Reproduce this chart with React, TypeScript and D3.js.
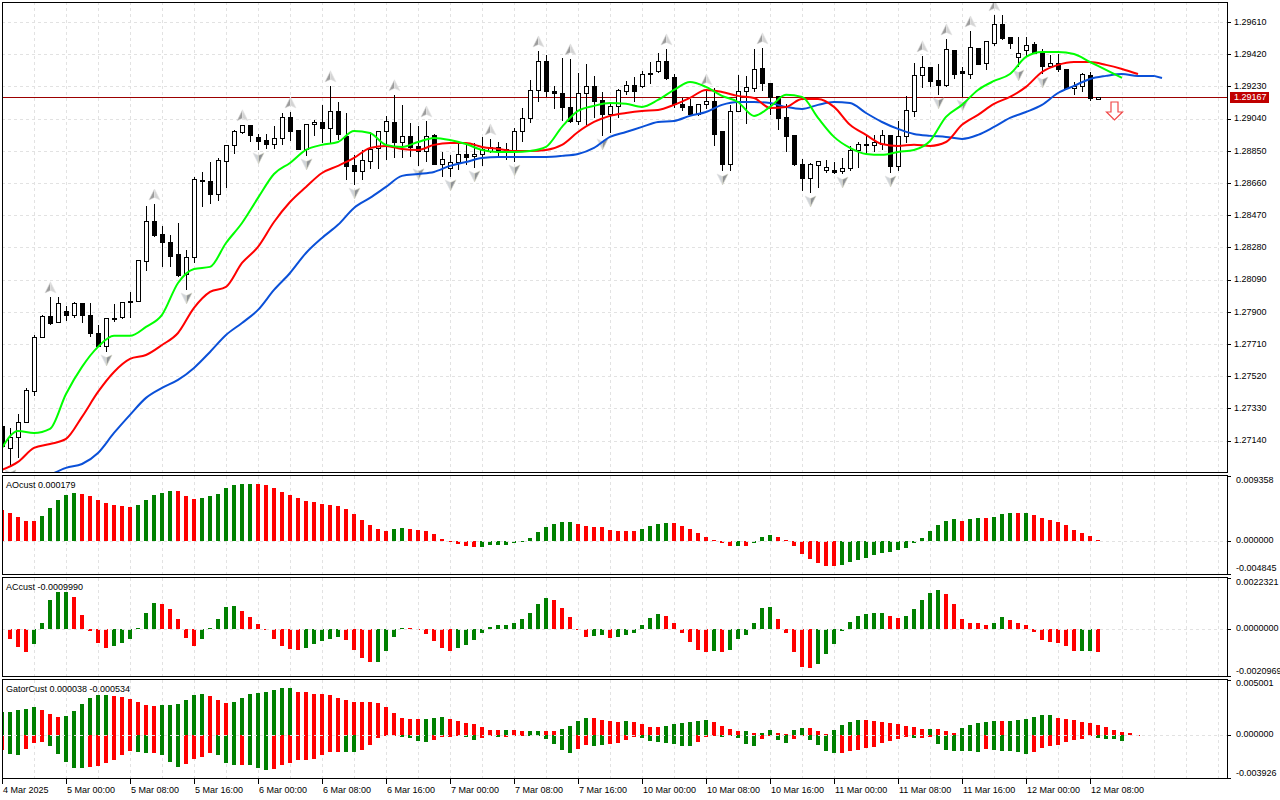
import * as d3 from "d3";

// prices are in points above 1.00000, so 29167 means 1.29167
const opens = [
  27224,27094,27159,27247,27430,27749,27873,27837,27902,27879,
  27949,27879,27772,27696,27864,27867,27955,27961,28197,28433,
  28357,28309,28239,28121,28221,28675,28669,28598,28787,28882,
  28958,29000,28929,28911,28888,28923,29047,28970,28858,29006,
  29017,28982,29082,28935,28764,28728,28787,28864,28964,29017,
  28899,28935,28876,28846,28941,28775,28746,28781,28834,28817,
  28829,28846,28870,28846,28846,28964,29041,29206,29377,29200,
  29194,29106,29023,29194,29230,29147,29070,29112,29200,29236,
  29230,29306,29318,29377,29283,29124,29112,29065,29124,29141,
  28964,28775,29082,29200,29218,29336,29253,29171,29047,28941,
  28770,28687,28764,28734,28734,28728,28746,28852,28893,28882,
  28893,28941,28758,28935,29082,29295,29342,29265,29236,29442,
  29318,29306,29454,29371,29489,29601,29519,29401,29442,29478,
  29430,29348,29371,29330,29218,29230,29300,29153,
];
const highs = [
  27265,27218,27300,27454,27766,27885,27991,27991,27938,27961,
  27955,27955,27825,27867,27949,27961,28020,28209,28528,28539,
  28410,28357,28427,28268,28699,28728,28787,28811,28888,28976,
  29006,29006,28952,28952,29000,29076,29082,28970,29006,29035,
  29124,29236,29141,29076,28829,28858,28964,28970,29059,29183,
  29124,29017,29000,29029,28952,28846,28829,28899,28899,28899,
  28935,28923,28905,28899,28988,29106,29271,29442,29418,29236,
  29401,29395,29312,29365,29295,29200,29135,29218,29265,29289,
  29324,29377,29430,29454,29306,29165,29159,29124,29218,29224,
  28970,29124,29300,29295,29454,29460,29253,29171,29130,28947,
  28805,28781,28793,28799,28787,28811,28882,28905,28947,28947,
  28976,28947,29029,29177,29371,29413,29342,29365,29513,29448,
  29348,29560,29454,29495,29655,29655,29525,29525,29525,29495,
  29454,29418,29424,29336,29259,29312,29318,29171,
];
const lows = [
  27000,26988,27041,27247,27407,27749,27825,27837,27849,27867,
  27837,27755,27696,27666,27843,27861,27867,27961,28144,28345,
  28168,28168,28109,28032,28191,28522,28539,28557,28634,28834,
  28952,28905,28858,28864,28864,28888,28911,28858,28823,28941,
  28899,28899,28917,28681,28651,28681,28746,28746,28799,28811,
  28811,28817,28764,28787,28770,28699,28699,28740,28770,28752,
  28764,28840,28811,28799,28787,28905,29017,29141,29171,29100,
  29029,29017,29006,29006,29047,28941,28958,29047,29183,29141,
  29224,29247,29312,29271,29106,29088,29065,29059,29100,28882,
  28734,28734,29082,29011,29200,29206,29065,28976,28846,28764,
  28616,28604,28634,28722,28716,28716,28734,28752,28829,28846,
  28858,28722,28734,28899,29053,29224,29230,29183,29230,29277,
  29171,29277,29365,29330,29472,29507,29454,29348,29407,29430,
  29306,29342,29318,29212,29183,29200,29147,29153,
];
const closes = [
  27106,27159,27247,27436,27749,27873,27831,27949,27879,27949,
  27879,27772,27696,27861,27855,27955,27961,28203,28433,28351,
  28309,28227,28115,28221,28681,28669,28593,28793,28882,28964,
  29000,28941,28905,28888,28923,29047,28964,28858,29006,29017,
  28982,29082,28952,28758,28728,28793,28858,28964,29023,28899,
  28935,28870,28846,28935,28775,28799,28781,28834,28811,28834,
  28858,28870,28846,28858,28964,29041,29206,29377,29200,29194,
  29106,29023,29194,29230,29141,29065,29112,29206,29236,29200,
  29306,29312,29377,29277,29124,29106,29065,29124,29141,28947,
  28770,29082,29200,29224,29330,29253,29165,29041,28935,28770,
  28687,28770,28787,28752,28722,28746,28852,28893,28882,28899,
  28941,28758,28935,29088,29295,29342,29259,29236,29448,29306,
  29312,29460,29365,29495,29601,29513,29489,29430,29472,29430,
  29348,29371,29330,29218,29230,29306,29159,29167,
];

// alligator lines, read every second bar
const lipsValues = [
  27100,27200,27188,27212,27418,27578,27696,27761,27761,27814,27885,28073,28156,28168,28309,28427,28575,28716,
  28781,28858,28888,28905,28970,28958,28888,28876,28905,28929,28917,28893,28858,28846,28846,28852,28876,28994,
  29088,29118,29135,29130,29112,29153,29212,29259,29230,29177,29141,29059,29112,29183,29171,29047,28935,28870,
  28834,28829,28846,28858,28911,29053,29124,29212,29265,29306,29407,29436,29436,29424,29377,29330,29283,
];
const teethValues = [
  26970,27017,27100,27123,27153,27283,27430,27548,27625,27648,27707,27778,27926,28020,28050,28191,28286,28433,
  28551,28640,28722,28764,28811,28870,28882,28864,28858,28888,28899,28899,28876,28864,28852,28852,28858,28888,
  28964,29023,29059,29076,29088,29094,29124,29165,29212,29200,29177,29165,29106,29112,29159,29159,29112,29006,
  28947,28893,28882,28888,28882,28905,29006,29065,29130,29171,29230,29318,29360,29377,29377,29360,29336,29306,
];
// jaw starts at bar 6 and has one extra point at bar 145
const jawValues = [
  26940,26982,27005,27070,27188,27295,27395,27454,27501,27572,27666,27766,27837,27914,28032,28132,28250,28339,
  28416,28516,28575,28640,28705,28716,28728,28764,28787,28811,28817,28817,28817,28817,28823,28834,28870,28935,
  28964,28994,29023,29029,29059,29082,29124,29141,29141,29135,29112,29100,29124,29141,29135,29076,29023,28982,
  28952,28941,28935,28923,28947,28994,29047,29082,29124,29194,29236,29277,29295,29306,29295,29295,29283,
];

const fractalUpBars = [6,19,30,36,41,49,53,61,67,71,83,88,95,115,118,121,124];
const fractalDownBars = [1,13,23,32,38,44,52,56,59,64,75,90,101,105,111,117,120,127,130];
const signalBar = 139;
const signalPrice = 29141;
const lastPrice = 29167;
const priceTicks = [29610,29420,29230,29040,28850,28660,28470,28280,28090,27900,27710,27520,27330,27140];

const dateLabels = [
  "4 Mar 2025","5 Mar 00:00","5 Mar 08:00","5 Mar 16:00","6 Mar 00:00","6 Mar 08:00","6 Mar 16:00","7 Mar 00:00","7 Mar 08:00",
  "7 Mar 16:00","10 Mar 00:00","10 Mar 08:00","10 Mar 16:00","11 Mar 00:00","11 Mar 08:00","11 Mar 16:00","12 Mar 00:00","12 Mar 08:00",
];

// AO in millionths
const aoValues = [
  4462,4074,3492,2910,2910,3638,4802,5966,6693,6984,6839,6548,5966,5529,5238,5093,4947,5238,5966,6693,
  6984,7275,7275,6548,6111,6257,6548,6839,7712,8148,8294,8294,8294,8148,7712,7130,6693,6257,5820,5675,
  5384,5238,5093,4656,3929,3056,2328,1746,1455,1746,1892,1746,1601,1455,1019,291,-146,-437,-728,-873,
  -873,-582,-582,-582,-291,-146,437,1310,2037,2474,2765,2765,2474,2183,2037,2037,1601,1455,1455,1455,
  1746,2183,2474,2619,2619,2183,1746,1164,582,146,-291,-728,-728,-728,-291,582,873,582,146,-728,
  -1892,-2619,-3201,-3638,-3638,-3492,-3056,-2765,-2474,-2037,-1746,-1601,-1310,-1019,-291,437,1455,2328,2910,3201,
  2910,3201,3347,3347,3492,3929,4074,4074,4074,3783,3347,3056,2765,2328,1601,1164,728,179,
];
// run lengths of falling / rising bars, falling first
const aoRuns = [5,5,7,5,3,7,17,2,9,12,8,4,8,1,1,3,8,15,1,2,1,3,1,1,9];

// AC in ten-millionths
const acValues = [
  0,-4401,-7922,-10122,-6602,2641,12763,16284,16284,14083,6161,-880,-6161,-8362,-7482,-6161,-4401,440,7042,11443,
  11003,8802,4401,-3961,-7482,-4401,440,4401,9682,10122,7922,5281,2201,-440,-4401,-7482,-8802,-9242,-8362,-6602,
  -5281,-4401,-3521,-4841,-9242,-12763,-14523,-14523,-9682,-3521,440,440,150,-2201,-5281,-8362,-9682,-8362,-7042,-4841,
  -1760,880,1760,1760,2641,4401,7042,11003,13643,12763,9242,5281,-440,-3521,-3081,-2641,-3961,-3521,-2641,-1760,
  1760,4841,6602,5721,2641,-1760,-5721,-9242,-10122,-9682,-10122,-9242,-4401,-2641,2641,9242,9682,4401,-1760,-10122,
  -16724,-17164,-15404,-11003,-6602,-880,3081,5721,6602,7042,7042,5721,4841,5721,8802,12763,15844,17164,15404,11003,
  4401,2641,2641,1760,2641,5281,3961,2641,1760,-1320,-4841,-5721,-6161,-7482,-9682,-9682,-9682,-9990,
];
const acRuns = [4,5,5,6,5,5,8,5,4,4,6,12,5,2,1,6,6,1,1,6,5,9,2,5,6,2,9,2,1];

// Gator in millionths, the two histograms run past the last candle
const gatorUpValues = [
  2121,2121,2303,2394,2576,2303,1939,1667,1757,2212,2848,3394,3666,3666,3575,3485,3303,3030,2757,2666,
  2757,2757,2848,3212,3666,3757,3575,3212,2939,3030,3394,3757,3848,3939,4121,4303,4303,3939,3939,3757,
  3757,3666,3394,3212,3030,3030,3030,2939,2576,2030,1576,1485,1485,1485,1576,1667,1485,1303,1121,1030,
  758,485,485,485,485,394,394,394,394,394,576,848,1303,1576,1576,1394,1303,1212,1303,1212,
  1030,758,758,848,1030,1121,1212,1303,1394,1212,848,576,394,394,212,212,485,212,121,485,
  667,667,394,121,485,939,1212,1394,1394,1303,1212,1121,1030,848,758,576,576,576,394,212,
  667,939,1121,1212,1303,1303,1303,1394,1485,1667,1848,1848,1576,1485,1394,1212,1121,939,758,485,
  303,212,30,
];
const gatorUpRuns = [0,5,3,6,6,6,3,8,16,3,7,1,2,2,2,4,4,1,4,6,4,1,1,2,2,2,3,4,8,1,3,5,1,6,11];
const gatorDownValues = [
  -1303,-1697,-1788,-1242,-697,-606,-970,-1697,-2424,-2969,-2969,-2879,-2788,-2515,-2242,-1788,-1424,-1515,-1606,-1606,
  -1788,-2424,-2879,-2606,-2151,-1970,-1606,-1788,-2515,-2697,-2697,-2697,-2969,-3151,-3060,-2697,-2515,-2242,-2242,-2151,
  -1788,-1515,-1515,-1515,-1515,-1333,-879,-242,-91,-10,-152,-242,-515,-606,-424,-152,-152,-91,-152,-424,
  -242,-91,-152,-152,-91,-61,-61,-91,-333,-788,-1333,-1606,-1242,-879,-970,-879,-788,-697,-424,-152,
  -242,-515,-606,-697,-788,-970,-970,-606,-152,-10,-152,-91,-242,-788,-970,-333,-10,-424,-697,-333,
  -61,-424,-879,-1424,-1606,-1606,-1424,-1333,-1151,-1061,-697,-515,-333,-152,-242,-242,-152,-788,-1333,-1424,
  -1424,-1424,-1515,-1242,-1333,-1424,-1424,-1515,-1697,-1515,-1151,-970,-879,-606,-424,-333,-30,-242,-333,-333,
  -515,
];
const gatorDownRuns = [1,2,3,5,6,2,1,3,4,3,1,3,9,2,5,4,4,2,2,1,3,6,2,2,4,7,3,5,2,2,2,4,9,1,2,6,1,5,8,4];

const left = 2;
const right = 1227;
const fontFamily = "'Liberation Sans', Arial, sans-serif";
const gridColor = "#e2e2e2";
const risingColor = "#008000";
const fallingColor = "#ff0000";

const x = d3.scaleLinear().domain([0, 1]).range([2, 10]);
const priceY = d3.scaleLinear().domain([29610, 27140]).range([22.5, 441.1]);
const gridXs = d3.range(left + 32, right, 32);
const pointsToPrice = (v: number) => (1 + v / 1e5).toFixed(5);

const expandRuns = (runs: number[]) =>
    runs.flatMap((n, k) => Array<boolean>(n).fill(k % 2 === 1));

const lineFor = (start: number, step: number) =>
    d3
        .line<number>()
        .x((_, i) => x(start + i * step))
        .y((v) => priceY(v))
        .curve(d3.curveMonotoneX);

type Histogram = {
    values: number[];
    runs: number[];
};

type PanelProps = {
    top: number;
    bottom: number;
    scale: d3.ScaleLinear<number, number>;
    histograms: Histogram[];
    title: string;
    ticks: { value: number; label: string; textY: number }[];
    id: string;
};

function Panel({ top, bottom, scale, histograms, title, ticks, id }: PanelProps) {
    const zero = scale(0);
    return (
        <g>
            <clipPath id={id}>
                <rect x={left} y={top} width={right - left} height={bottom - top} />
            </clipPath>
            {gridXs.map((gx) => (
                <line
                    key={gx}
                    x1={gx + 0.5}
                    x2={gx + 0.5}
                    y1={top}
                    y2={bottom}
                    stroke={gridColor}
                    strokeDasharray="3 3"
                    shapeRendering="crispEdges"
                />
            ))}
            <g clipPath={`url(#${id})`} shapeRendering="crispEdges">
                {histograms.map((h, k) => {
                    const rising = expandRuns(h.runs);
                    return h.values.map((v, i) => {
                        const y = scale(v);
                        return (
                            <rect
                                key={`${k}-${i}`}
                                x={x(i) - 2}
                                y={Math.min(y, zero)}
                                width={4}
                                height={Math.max(Math.abs(y - zero), 1)}
                                fill={rising[i] ? risingColor : fallingColor}
                            />
                        );
                    });
                })}
            </g>
            <line
                x1={left}
                x2={right}
                y1={zero}
                y2={zero}
                stroke={gridColor}
                strokeDasharray="3 3"
                shapeRendering="crispEdges"
            />
            <rect
                x={left + 0.5}
                y={top - 0.5}
                width={right - left}
                height={bottom - top}
                fill="none"
                stroke="#000"
                shapeRendering="crispEdges"
            />
            <text x={6} y={top + 11.5} fontSize={9} fontFamily={fontFamily} fill="#000">
                {title}
            </text>
            {ticks.map((t) => (
                <g key={t.label}>
                    <line
                        x1={right}
                        x2={right + 4}
                        y1={scale(t.value)}
                        y2={scale(t.value)}
                        stroke="#000"
                        shapeRendering="crispEdges"
                    />
                    <text
                        x={right + 9}
                        y={t.textY}
                        dominantBaseline="middle"
                        fontSize={9}
                        fontFamily={fontFamily}
                        fill="#000"
                    >
                        {t.label}
                    </text>
                </g>
            ))}
        </g>
    );
}

export default function App() {
    const lastY = priceY(lastPrice);
    const plotTop = 2;
    const plotBottom = 472;
    const aoY = d3.scaleLinear().domain([-4845, 9358]).range([574.3, 476.7]);
    const acY = d3.scaleLinear().domain([-20969, 22321]).range([676.7, 578.3]);
    const gatorY = d3.scaleLinear().domain([-3926, 5001]).range([778.7, 680.3]);

    return (
        <svg
            width={1280}
            height={800}
            viewBox="0 0 1280 800"
            style={{ position: "absolute", left: 0, top: 0, background: "#fff" }}
        >
            <clipPath id="main-clip">
                <rect x={left} y={plotTop} width={right - left} height={plotBottom - plotTop} />
            </clipPath>

            {/* main chart */}
            {gridXs.map((gx) => (
                <line
                    key={gx}
                    x1={gx + 0.5}
                    x2={gx + 0.5}
                    y1={plotTop}
                    y2={plotBottom}
                    stroke={gridColor}
                    strokeDasharray="3 3"
                    shapeRendering="crispEdges"
                />
            ))}
            {priceTicks.map((t) => (
                <g key={t}>
                    <line
                        x1={left}
                        x2={right}
                        y1={priceY(t)}
                        y2={priceY(t)}
                        stroke={gridColor}
                        strokeDasharray="3 3"
                        shapeRendering="crispEdges"
                    />
                    <line
                        x1={right}
                        x2={right + 4}
                        y1={priceY(t)}
                        y2={priceY(t)}
                        stroke="#000"
                        shapeRendering="crispEdges"
                    />
                    <text
                        x={right + 7}
                        y={priceY(t)}
                        dominantBaseline="middle"
                        fontSize={9}
                        fontFamily={fontFamily}
                        fill="#000"
                    >
                        {pointsToPrice(t)}
                    </text>
                </g>
            ))}
            <line
                x1={left}
                x2={right}
                y1={lastY}
                y2={lastY}
                stroke="#9c0000"
                shapeRendering="crispEdges"
            />

            <g clipPath="url(#main-clip)">
                <g shapeRendering="crispEdges">
                    {opens.map((open, i) => {
                        const close = closes[i];
                        const up = close >= open;
                        const cx = x(i) + 0.5;
                        const top = priceY(Math.max(open, close));
                        const bottom = priceY(Math.min(open, close));
                        return (
                            <g key={i}>
                                <line
                                    x1={cx}
                                    x2={cx}
                                    y1={priceY(highs[i])}
                                    y2={priceY(lows[i])}
                                    stroke="#000"
                                />
                                <rect
                                    x={cx - 2}
                                    y={top}
                                    width={4}
                                    height={Math.max(bottom - top, 1)}
                                    fill={up ? "#fff" : "#000"}
                                    stroke="#000"
                                />
                            </g>
                        );
                    })}
                </g>

                {fractalUpBars.map((b) => (
                    <g key={b} transform={`translate(${x(b) + 0.5},${priceY(highs[b]) - 9})`}>
                        <path d="M0,-6L-5.5,5L0,2.5Z" fill="#9c9c9c" stroke="#d8d8d8" strokeWidth={0.6} />
                        <path d="M0,-6L5.5,5L0,2.5Z" fill="#d4d4d4" stroke="#e4e4e4" strokeWidth={0.6} />
                    </g>
                ))}
                {fractalDownBars.map((b) => (
                    <g key={b} transform={`translate(${x(b) + 0.5},${priceY(lows[b]) + 8})`}>
                        <path d="M0,6L-5.5,-5L0,-2.5Z" fill="#d0d4d8" stroke="#e4e4e4" strokeWidth={0.6} />
                        <path d="M0,6L5.5,-5L0,-2.5Z" fill="#8f9296" stroke="#d8d8c8" strokeWidth={0.6} />
                    </g>
                ))}

                <path d={lineFor(6, 2)(jawValues.slice(0, -1)) ?? ""} fill="none" stroke="#0a50d8" strokeWidth={2} />
                <path
                    d={
                        d3.line()([
                            [x(144), priceY(jawValues[jawValues.length - 2])],
                            [x(145), priceY(jawValues[jawValues.length - 1])],
                        ]) ?? ""
                    }
                    fill="none"
                    stroke="#0a50d8"
                    strokeWidth={2}
                />
                <path d={lineFor(0, 2)(teethValues) ?? ""} fill="none" stroke="#ff0000" strokeWidth={2} />
                <path d={lineFor(0, 2)(lipsValues) ?? ""} fill="none" stroke="#00ff00" strokeWidth={2} />

                <g transform={`translate(${x(signalBar) + 0.5},${priceY(signalPrice)})`}>
                    <path
                        d="M-3.5,0L3.5,0L3.5,10L8,10L0,18L-8,10L-3.5,10Z"
                        fill="#fff"
                        stroke="#f04848"
                        strokeWidth={1.2}
                    />
                </g>
            </g>

            <rect
                x={left + 0.5}
                y={plotTop + 0.5}
                width={right - left}
                height={plotBottom - plotTop}
                fill="none"
                stroke="#000"
                shapeRendering="crispEdges"
            />
            <rect x={1230} y={lastY - 5.5} width={39} height={11} fill="#c00000" shapeRendering="crispEdges" />
            <text
                x={1234}
                y={lastY}
                dominantBaseline="middle"
                fontSize={9}
                fontFamily={fontFamily}
                fill="#fff"
            >
                {pointsToPrice(lastPrice)}
            </text>

            <Panel
                id="ao-clip"
                top={476}
                bottom={575}
                scale={aoY}
                histograms={[{ values: aoValues, runs: aoRuns }]}
                title="AOcust 0.000179"
                ticks={[
                    { value: 9358, label: "0.009358", textY: 481 },
                    { value: 0, label: "0.000000", textY: 541 },
                    { value: -4845, label: "-0.004845", textY: 569 },
                ]}
            />
            <Panel
                id="ac-clip"
                top={578}
                bottom={677}
                scale={acY}
                histograms={[{ values: acValues, runs: acRuns }]}
                title="ACcust -0.0009990"
                ticks={[
                    { value: 22321, label: "0.0022321", textY: 583 },
                    { value: 0, label: "0.0000000", textY: 629 },
                    { value: -20969, label: "-0.0020969", textY: 672 },
                ]}
            />
            <Panel
                id="gator-clip"
                top={680}
                bottom={779}
                scale={gatorY}
                histograms={[
                    { values: gatorUpValues, runs: gatorUpRuns },
                    { values: gatorDownValues, runs: gatorDownRuns },
                ]}
                title="GatorCust 0.000038 -0.000534"
                ticks={[
                    { value: 5001, label: "0.005001", textY: 684 },
                    { value: 0, label: "0.000000", textY: 735 },
                    { value: -3926, label: "-0.003926", textY: 774 },
                ]}
            />

            {/* time axis, one label every 8 bars */}
            {dateLabels.map((label, k) => {
                const tx = x(k * 8);
                return (
                    <g key={label}>
                        <line
                            x1={tx + 0.5}
                            x2={tx + 0.5}
                            y1={779}
                            y2={784}
                            stroke="#000"
                            shapeRendering="crispEdges"
                        />
                        <text x={tx + 1} y={793} fontSize={9} fontFamily={fontFamily} fill="#000">
                            {label}
                        </text>
                    </g>
                );
            })}
        </svg>
    );
}
